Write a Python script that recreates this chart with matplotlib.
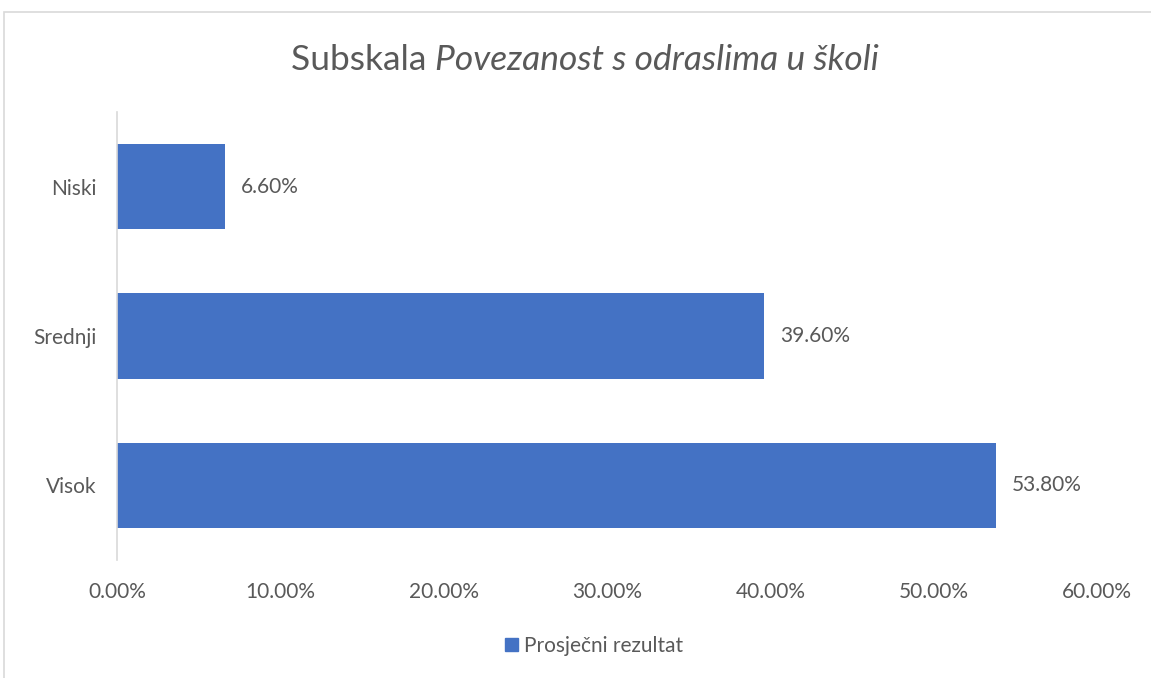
import matplotlib.pyplot as plt
from matplotlib.patches import Rectangle, Patch
from matplotlib.ticker import FuncFormatter

plt.rcParams['font.family'] = ['Lato', 'DejaVu Sans']

categories = ['Niski', 'Srednji', 'Visok']
values = [6.6, 39.6, 53.8]
series_name = 'Prosječni rezultat'
x_ticks = [0, 10, 20, 30, 40, 50, 60]

bar_color = '#4472C4'
text_color = '#595959'

fig = plt.figure(figsize=(11.51, 6.78), dpi=100)
ax = fig.add_axes([0.1017, 0.174, 0.8513, 0.6608])

pos = list(range(len(categories)))
ax.barh(pos, values, height=0.57, color=bar_color)
ax.set_ylim(len(categories) - 0.5, -0.5)
ax.set_xlim(0, 60)
ax.set_yticks(pos)
ax.set_yticklabels(categories)
ax.set_xticks(x_ticks)
ax.xaxis.set_major_formatter(FuncFormatter(lambda v, p: f'{v:.2f}%'))
ax.tick_params(length=0, labelsize=15, colors=text_color)
ax.tick_params(axis='x', pad=16)
ax.tick_params(axis='y', pad=15)

for s in ['top', 'right', 'bottom']:
    ax.spines[s].set_visible(False)
ax.spines['left'].set_color('#D9D9D9')
ax.spines['left'].set_linewidth(1.2)

for p, v in zip(pos, values):
    ax.annotate(f'{v:.2f}%', xy=(v, p), xytext=(11.5, 0), textcoords='offset points',
                va='center', ha='left', fontsize=15, color=text_color)

# chart border
fig.patches.append(Rectangle((4 / 1151, -0.01), 1.0, 1 - 12 / 678 + 0.01,
                             transform=fig.transFigure, fill=False,
                             edgecolor='#D9D9D9', linewidth=1.2))

# title: regular + italic part
t1 = fig.text(0.25, 1 - 70 / 678, 'Subskala ', fontsize=25.5, color=text_color,
              ha='left', va='baseline')
t2 = ax.annotate('Povezanost s odraslima u školi', xy=(1, 0), xycoords=t1,
                 fontsize=25.5, color=text_color, style='italic',
                 ha='left', va='bottom', annotation_clip=False)
fig.canvas.draw()
r = fig.canvas.get_renderer()
w = t1.get_window_extent(r).width + t2.get_window_extent(r).width
t1.set_x((585 - w / 2) / 1151)

fig.legend(handles=[Patch(color=bar_color, label=series_name)],
           loc='center', bbox_to_anchor=(594 / 1151, 1 - 646 / 678),
           frameon=False, fontsize=15, labelcolor=text_color,
           handlelength=0.6, handleheight=0.6, handletextpad=0.3)

fig.savefig('out.png')
